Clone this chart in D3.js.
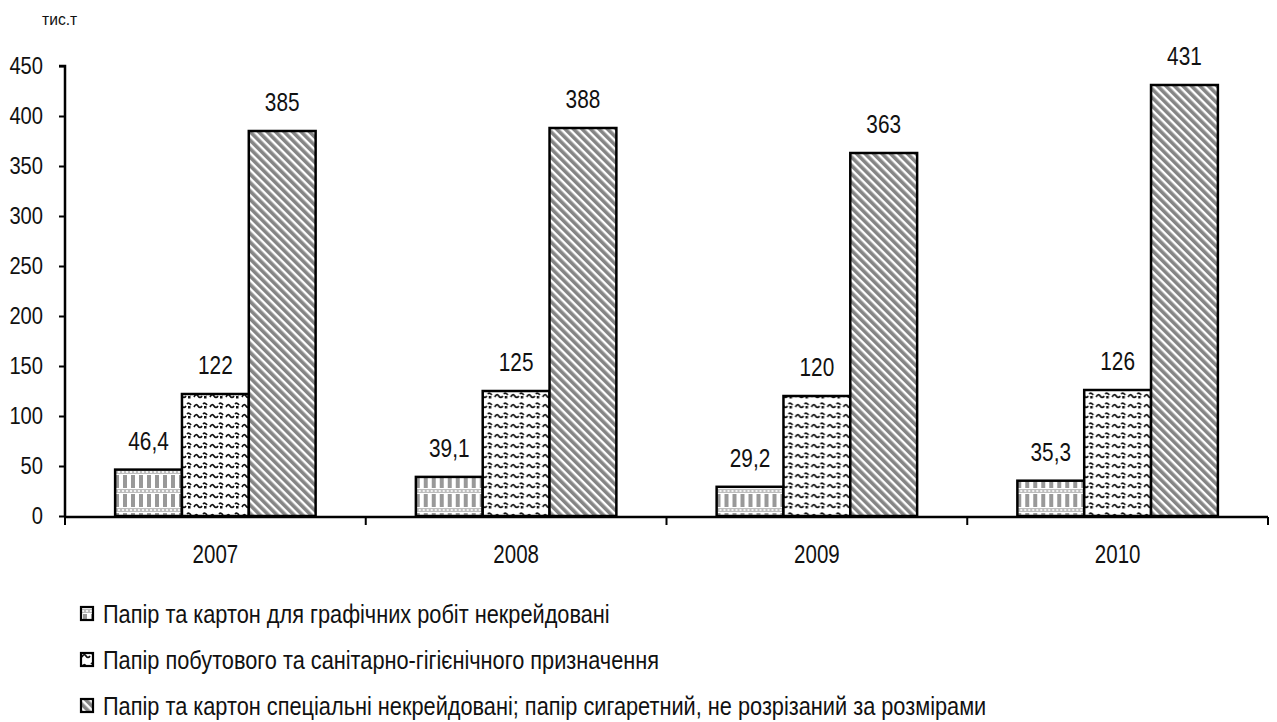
<!DOCTYPE html>
<html>
<head>
<meta charset="utf-8">
<style>
  body { margin: 0; background: #fff; }
  text { font-family: "Liberation Sans", Arial, sans-serif; fill: #111; }
  .narrow { transform-box: fill-box; }
  .n-mid { transform-origin: center; }
  .n-end { transform-origin: right center; }
  .n-start { transform-origin: left center; }
</style>
</head>
<body>
<div id="chart"></div>
<script src="https://cdn.jsdelivr.net/npm/d3@7"></script>
<script>
// data
var years = ["2007", "2008", "2009", "2010"];
var seriesNames = [
  "Папір та картон для графічних робіт некрейдовані",
  "Папір побутового та санітарно-гігієнічного призначення",
  "Папір та картон спеціальні некрейдовані; папір сигаретний, не розрізаний за розмірами"
];
var graphic = [46.4, 39.1, 29.2, 35.3];
var household = [122, 125, 120, 126];
var special = [385, 388, 363, 431];
var valueLabels = [
  ["46,4", "39,1", "29,2", "35,3"],
  ["122", "125", "120", "126"],
  ["385", "388", "363", "431"]
];
var yTicks = [0, 50, 100, 150, 200, 250, 300, 350, 400, 450];
var unitLabel = "тис.т";

var series = [graphic, household, special];

var W = 1277, H = 722;
var svg = d3.select("#chart").append("svg")
    .attr("width", W).attr("height", H);

// squeeze text horizontally, the original uses a narrow font
function narrow(sel, size, sx, cls) {
  sel.attr("class", "narrow " + cls)
     .style("font-size", size + "px")
     .style("transform", "scaleX(" + sx + ")");
}

// patterns
var defs = svg.append("defs");

// pattern 1: grey vertical stripes with dotted bands
var p1 = defs.append("pattern").attr("id", "pat1")
    .attr("patternUnits", "userSpaceOnUse")
    .attr("width", 8).attr("height", 19);
p1.append("rect").attr("width", 8).attr("height", 19).attr("fill", "#fff");
p1.append("rect").attr("x", 2).attr("y", 0).attr("width", 4).attr("height", 13).attr("fill", "#999");
p1.append("rect").attr("x", 0).attr("y", 14).attr("width", 8).attr("height", 4).attr("fill", "#bdbdbd");
p1.append("circle").attr("cx", 2).attr("cy", 16).attr("r", 1.1).attr("fill", "#fff");
p1.append("circle").attr("cx", 6).attr("cy", 16).attr("r", 1.1).attr("fill", "#fff");

// pattern 2: black wavy marks on white
var p2 = defs.append("pattern").attr("id", "pat2")
    .attr("patternUnits", "userSpaceOnUse")
    .attr("width", 16).attr("height", 10);
p2.append("rect").attr("width", 16).attr("height", 10).attr("fill", "#fff");
p2.append("path")
    .attr("d", "M1,7 Q3,3 5,6 T9,6 M10,4 Q12,2 14,5")
    .attr("fill", "none").attr("stroke", "#111").attr("stroke-width", 1.7);
p2.append("rect").attr("x", 11).attr("y", 6).attr("width", 2.5).attr("height", 2.5).attr("fill", "#111");

// pattern 3: grey diagonal stripes
var p3 = defs.append("pattern").attr("id", "pat3")
    .attr("patternUnits", "userSpaceOnUse")
    .attr("width", 6).attr("height", 6)
    .attr("patternTransform", "rotate(-45)");
p3.append("rect").attr("width", 6).attr("height", 6).attr("fill", "#fff");
p3.append("rect").attr("width", 3.6).attr("height", 6).attr("fill", "#858585");

var fills = ["url(#pat1)", "url(#pat2)", "url(#pat3)"];

// scales
var x0 = d3.scaleBand().domain(years).range([65, 1268]).padding(0);
var bw = x0.bandwidth();
var x1 = d3.scaleBand().domain([0, 1, 2]).range([bw / 6, bw * 5 / 6]).padding(0);
var y = d3.scaleLinear().domain([0, 450]).range([516, 66]);

// bars
var groups = svg.selectAll("g.year").data(years).enter().append("g")
    .attr("class", "year")
    .attr("transform", function(d) { return "translate(" + x0(d) + ",0)"; });

groups.each(function(yr, i) {
  var g = d3.select(this);
  series.forEach(function(s, k) {
    g.append("rect")
      .attr("x", x1(k))
      .attr("y", y(s[i]))
      .attr("width", x1.bandwidth())
      .attr("height", y(0) - y(s[i]))
      .attr("fill", fills[k])
      .attr("stroke", "#000")
      .attr("stroke-width", 2.5);
    g.append("text")
      .attr("x", x1(k) + x1.bandwidth() / 2)
      .attr("y", y(s[i]) - 20)
      .attr("text-anchor", "middle")
      .call(narrow, 26, 0.8, "n-mid")
      .text(valueLabels[k][i]);
  });
});

// y axis
var yAxis = svg.append("g")
    .attr("transform", "translate(65,0)")
    .call(d3.axisLeft(y).tickValues(yTicks).tickSize(6).tickPadding(16));
yAxis.select(".domain").attr("stroke", "#000").attr("stroke-width", 2.5).attr("d", "M-6,66H0V516");
yAxis.selectAll(".tick line").attr("stroke", "#000").attr("stroke-width", 2);
yAxis.selectAll(".tick text").attr("fill", "#111").call(narrow, 24, 0.84, "n-end");

// x axis
var xAxis = svg.append("g")
    .attr("transform", "translate(0,517)")
    .call(d3.axisBottom(x0).tickSize(0).tickPadding(28));
xAxis.select(".domain").attr("stroke", "#000").attr("stroke-width", 2.5).attr("d", "M65,0H1268");
xAxis.selectAll(".tick text").attr("fill", "#111").call(narrow, 25, 0.82, "n-mid");
xAxis.selectAll(".sep").data(years.concat(["end"])).enter().append("line")
    .attr("class", "sep")
    .attr("x1", function(d, i) { return i < years.length ? x0(d) : x0(years[years.length - 1]) + bw; })
    .attr("x2", function(d, i) { return i < years.length ? x0(d) : x0(years[years.length - 1]) + bw; })
    .attr("y1", 0).attr("y2", 8)
    .attr("stroke", "#000").attr("stroke-width", 2);

// unit label
svg.append("text").attr("x", 42).attr("y", 25)
    .call(narrow, 17, 0.92, "n-start").text(unitLabel);

// legend
var legend = svg.selectAll("g.leg").data(seriesNames).enter().append("g")
    .attr("class", "leg")
    .attr("transform", function(d, i) { return "translate(81," + (614 + i * 46) + ")"; });
legend.append("rect")
    .attr("x", 0).attr("y", -7).attr("width", 12).attr("height", 13)
    .attr("fill", function(d, i) { return fills[i]; })
    .attr("stroke", "#000").attr("stroke-width", 2.2);
legend.append("text")
    .attr("x", 22).attr("y", 0).attr("dy", "0.36em")
    .call(narrow, 25, 0.87, "n-start")
    .text(function(d) { return d; });
</script>
</body>
</html>
